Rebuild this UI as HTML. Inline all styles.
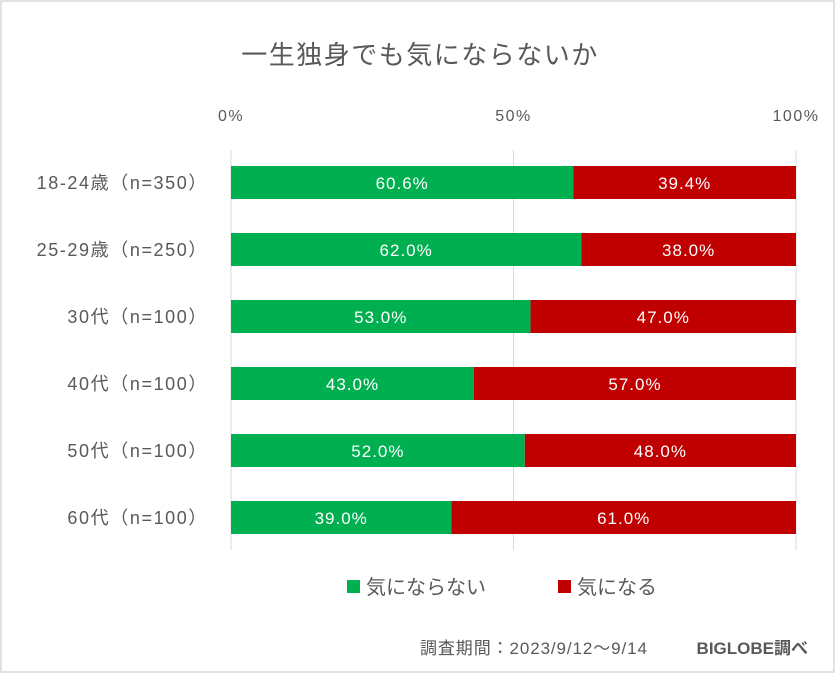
<!DOCTYPE html>
<html><head><meta charset="utf-8"><style>
body{margin:0;background:#fff;width:840px;height:675px;overflow:hidden;font-family:"Liberation Sans","Noto Sans CJK JP",sans-serif}
</style></head><body>
<svg width="840" height="675" id="c">
<rect x="1" y="1" width="833" height="671" fill="#fff" stroke="#d9d9d9" stroke-width="1.5"/>
<text x="420" y="64" text-anchor="middle" font-size="26" letter-spacing="1.5" fill="#595959">一生独身でも気にならないか</text>
<g id="grid"></g><g id="bars"></g><g id="labels"></g>
<g>
<rect x="347" y="580" width="13" height="13" fill="#00b050"/>
<text x="366" y="594" font-size="20" fill="#595959">気にならない</text>
<rect x="558" y="580" width="13" height="13" fill="#c00000"/>
<text x="577" y="594" font-size="20" fill="#595959">気になる</text>
</g>
<text x="420" y="654" font-size="17" letter-spacing="0.9" fill="#595959">調査期間：2023/9/12～9/14</text>
<text x="808" y="654" text-anchor="end" font-size="17" font-weight="bold" fill="#595959">BIGLOBE調べ</text>
</svg>
<script>
const categories=["18-24歳（n=350）","25-29歳（n=250）","30代（n=100）","40代（n=100）","50代（n=100）","60代（n=100）"];
const notMind=[60.6,62.0,53.0,43.0,52.0,39.0];
const mind=[39.4,38.0,47.0,57.0,48.0,61.0];
const ticks=[0,50,100];
const NS="http://www.w3.org/2000/svg";
const x0=231,x1=796,yTop=150,rowH=67,barH=33,firstY=166;
const xs=v=>x0+(x1-x0)*v/100;
const ys=i=>firstY+i*rowH;
function mk(t,a,p){const e=document.createElementNS(NS,t);for(const k in a)e.setAttribute(k,a[k]);document.getElementById(p).appendChild(e);return e;}
ticks.forEach(t=>{
 const l=mk("line",{x1:xs(t),x2:xs(t),y1:yTop,y2:550,stroke:"#d9d9d9","stroke-width":1},"grid");
 
 
 const tx=mk("text",{x:xs(t),y:121,"text-anchor":"middle","font-size":16,"letter-spacing":1.5,fill:"#595959"},"grid");
 tx.textContent=t+"%";
 
 
});
categories.forEach((c,i)=>{
 const y=ys(i);
 const a=mk("rect",{x:xs(0),y:y,width:xs(notMind[i])-xs(0),height:barH,fill:"#00b050"},"bars");
 
 
 const b=mk("rect",{x:xs(notMind[i]),y:y,width:xs(notMind[i]+mind[i])-xs(notMind[i]),height:barH,fill:"#c00000"},"bars");
 
 
 const t1=mk("text",{x:(xs(0)+xs(notMind[i]))/2,y:y+23,"text-anchor":"middle","font-size":17,"letter-spacing":1,fill:"#fff"},"labels");
 t1.textContent=notMind[i].toFixed(1)+"%";
 
 
 const t2=mk("text",{x:(xs(notMind[i])+xs(notMind[i]+mind[i]))/2,y:y+23,"text-anchor":"middle","font-size":17,"letter-spacing":1,fill:"#fff"},"labels");
 t2.textContent=mind[i].toFixed(1)+"%";
 
 
 const cl=mk("text",{x:208,y:y+23,"text-anchor":"end","font-size":18,"letter-spacing":1.6,fill:"#595959"},"labels");
 cl.textContent=c;
 
 
});
</script>
</body></html>
